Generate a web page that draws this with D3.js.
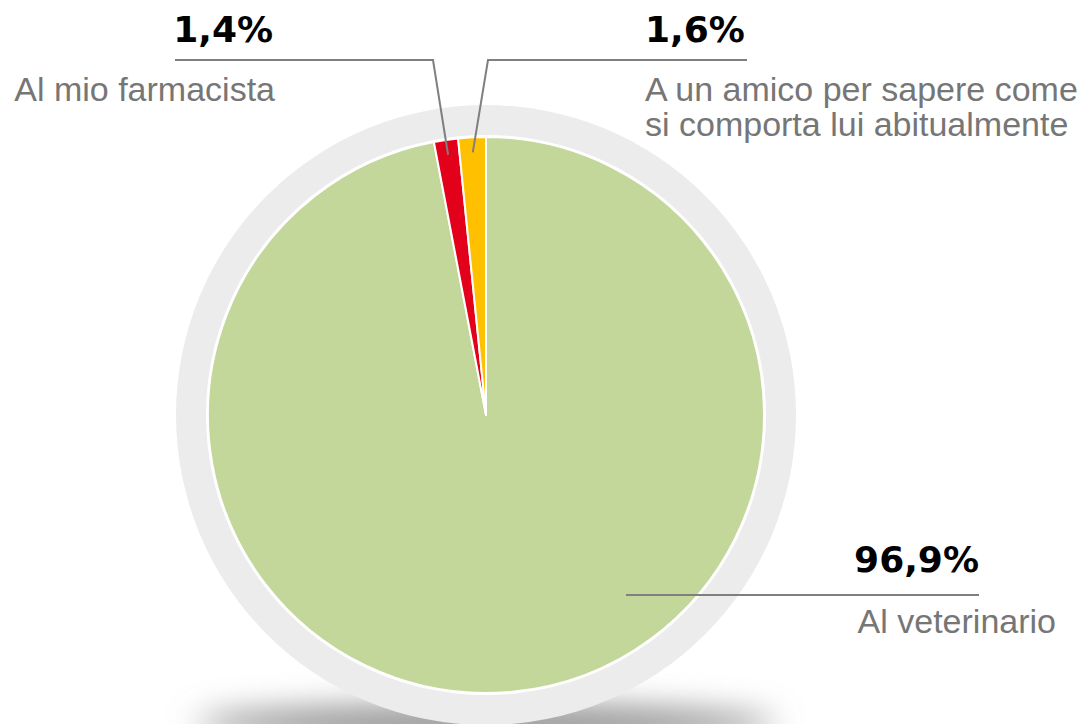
<!DOCTYPE html>
<html>
  <head>
    <script src="https://d3js.org/d3.v7.min.js"></script>
  </head>
  <body>
    <svg id="viz"></svg>
  </body>
  <script>
    const labels = ["Al veterinario", "Al mio farmacista", "A un amico per sapere come\nsi comporta lui abitualmente"];
    const values = [96.9, 1.4, 1.6];
    const valueText = ["96,9%", "1,4%", "1,6%"];
    const colors = ["#c4d79b", "#e2001a", "#ffc000"];

    function draw() {
      const svg = d3.select("svg#viz");
      const width = 1085, height = 724;
      svg.attr("width", width).attr("height", height);

      const cx = 486, cy = 415, r = 278;

      const defs = svg.append("defs");
      defs.append("filter").attr("id", "blur")
        .attr("x", "-50%").attr("y", "-300%").attr("width", "200%").attr("height", "700%")
        .append("feGaussianBlur").attr("stdDeviation", 16);

      // shadow under the ring
      svg.append("ellipse")
        .attr("cx", cx).attr("cy", 724).attr("rx", 290).attr("ry", 18)
        .attr("fill", "#8a8a8a").attr("filter", "url(#blur)");

      const g = svg.append("g").attr("transform", `translate(${cx},${cy})`);
      g.append("circle").attr("r", 310).attr("fill", "#ececec");
      g.append("circle").attr("r", r + 2).attr("fill", "#fff");

      const data = values.map((v, i) => ({ v, i }));
      const pie = d3.pie().sort(null).value((d) => d.v);
      const arc = d3.arc().innerRadius(0).outerRadius(r);
      const arcs = pie(data);

      g.selectAll("path")
        .data(arcs)
        .join("path")
        .attr("d", arc)
        .attr("fill", (d) => colors[d.data.i])
        .attr("stroke", "#fff")
        .attr("stroke-width", 2)
        .attr("stroke-linejoin", "round");

      // leader lines: point inside slice -> elbow -> end of horizontal
      const inner = d3.arc().innerRadius(263).outerRadius(263);
      const pts = arcs.map((d) => {
        const c = inner.centroid(d);
        return [c[0] + cx, c[1] + cy];
      });
      pts[0] = [626, 595];
      const leaders = [
        [pts[0], [979, 595]],
        [pts[1], [433, 60], [175, 60]],
        [pts[2], [488, 60], [747, 60]],
      ];
      svg.selectAll("path.leader")
        .data(leaders)
        .join("path")
        .attr("class", "leader")
        .attr("d", d3.line())
        .attr("fill", "none")
        .attr("stroke", "#7f7f7f")
        .attr("stroke-width", 2);

      const valPos = [[979, 572, "end"], [273, 42, "end"], [645, 42, "start"]];
      svg.selectAll("text.val")
        .data(valueText)
        .join("text")
        .attr("class", "val")
        .attr("x", (d, i) => valPos[i][0])
        .attr("y", (d, i) => valPos[i][1])
        .attr("text-anchor", (d, i) => valPos[i][2])
        .attr("font-family", "DejaVu Sans, Verdana, sans-serif")
        .attr("font-weight", "bold")
        .attr("font-size", 36)
        .attr("fill", "#000")
        .text((d) => d);

      const labPos = [[1056, 633, "end"], [275, 101, "end"], [645, 101, "start"]];
      labels.forEach((t, i) => {
        const txt = svg.append("text")
          .attr("x", labPos[i][0])
          .attr("y", labPos[i][1])
          .attr("text-anchor", labPos[i][2])
          .attr("font-family", "Liberation Sans, Arial, sans-serif")
          .attr("font-size", 34)
          .attr("fill", "#767676");
        t.split("\n").forEach((line, j) => {
          txt.append("tspan").attr("x", labPos[i][0]).attr("dy", j ? 35 : 0).text(line);
        });
      });
    }

    draw();
  </script>
  <style>
    body {
      margin: 0px;
    }
  </style>
</html>
